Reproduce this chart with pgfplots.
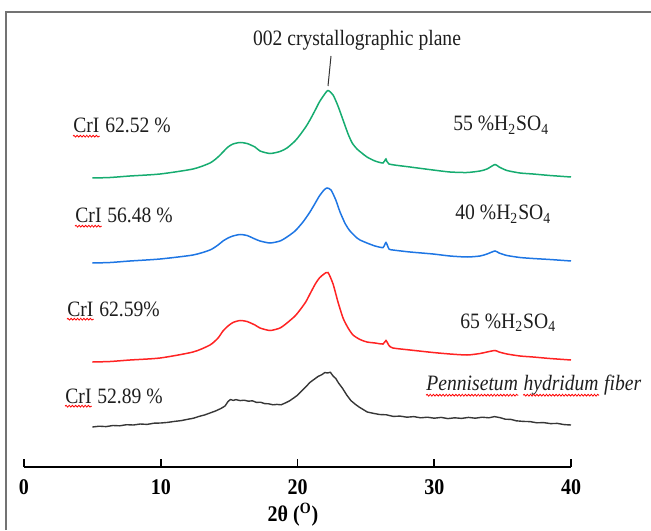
\documentclass[border=0pt]{standalone}
\usepackage{fontspec}
\setmainfont{Liberation Serif}
\usepackage{graphicx}
\usepackage{pgfplots}
\pgfplotsset{compat=1.18}
\usetikzlibrary{decorations.pathmorphing}
\definecolor{cgreen}{RGB}{22,172,112}
\definecolor{cblue}{RGB}{30,118,228}
\definecolor{cred}{RGB}{255,35,35}
\definecolor{cblack}{RGB}{55,55,55}
\definecolor{frame}{RGB}{115,115,115}
\definecolor{txt}{RGB}{30,30,30}
\newcommand\lab{\fontsize{9.8}{11}\selectfont}
\newcommand\tall[1]{\scalebox{1}[1.12]{#1}}
\tikzset{squig/.style={red, line width=0.4pt, decorate, decoration={snake, amplitude=0.45pt, segment length=1.6pt}}}

\pgfplotstableread{
x y
5.00 352
6.29 352.5
7.75 354
9.95 356
12.36 361
13.60 367
14.19 373
14.55 378
14.92 383
15.28 386
15.80 387.5
16.31 386.5
16.89 383
17.26 379
17.99 376.5
18.72 378.5
19.23 382
19.82 389
20.18 395
20.60 403
20.91 410
21.30 420
21.60 428
21.94 435
22.23 439.5
22.60 435
22.96 424
23.33 410
23.70 396
24.00 387
24.35 381
24.70 377
25.08 373
25.67 369
26.25 367
26.47 371
26.69 366
28.23 363
29.91 360
31.15 358
32.40 357.5
33.35 359
33.86 361
34.44 365.5
34.74 363
35.32 359.5
36.27 357
37.22 356
38.46 354.5
40.00 353
}\green

\pgfplotstableread{
x y
5.00 267
6.29 267.5
7.75 269
9.95 271
12.36 275
13.60 280
14.19 285
14.55 289
14.92 292
15.28 294
15.80 295.5
16.31 294.5
16.89 291
17.26 289
17.99 287
18.72 289
19.23 293
19.82 299
20.40 308
20.91 318
21.30 327
21.60 334
21.94 340
22.16 342
22.45 340
22.80 330
23.11 318
23.50 306
23.84 299
24.35 292
24.57 290
25.08 287
25.67 284
26.25 282.5
26.47 287.5
26.69 281
26.98 280
28.23 278
29.91 276
31.15 274
32.40 273
33.35 274
33.86 276
34.44 279
34.74 277
35.32 274.5
36.27 272.5
37.22 271.5
38.46 270.5
40.00 269
}\blue

\pgfplotstableread{
x y
5.00 168
6.29 168.5
7.75 170
9.95 172
12.36 178
13.60 185
14.19 192
14.55 199
14.92 204
15.28 207.5
15.80 209.5
16.31 208.5
16.89 205
17.26 202
17.99 199.5
18.72 202
19.23 207
19.82 214
20.18 220
20.60 228
20.91 236
21.30 246
21.60 252
21.94 256
22.23 257.5
22.60 246
22.96 228
23.33 212
23.70 202
24.06 195
24.57 190.5
25.08 188
25.67 187
26.25 186
26.47 189.5
26.69 184.5
26.98 182
28.23 180
29.91 177.5
31.15 176
32.40 175
33.35 176.5
33.86 178
34.44 179.5
34.74 178
35.32 176
36.27 174
37.22 173
38.46 171.5
40.00 170
}\red

\pgfplotstableread{
x y
5.0 103
5.5 103.8
6.0 103.4
6.5 104.5
7.0 104.2
7.5 105.3
8.0 105.0
8.5 106.0
9.0 105.6
9.5 106.8
10.0 107.0
10.5 107.6
11.0 108.6
11.5 109.4
12.0 110.8
12.4 111.8
12.8 113.6
13.2 115
13.6 117
14.0 119
14.4 121.5
14.7 124
14.92 128.5
15.1 130.5
15.3 129.6
15.5 130.4
15.8 129.4
16.1 129.8
16.4 128.8
16.7 129.2
17.0 127.6
17.3 127.8
17.6 126.4
17.9 126.2
18.2 125.2
18.5 125.6
18.8 125.2
19.1 127
19.4 129
19.7 131.8
20.0 134.8
20.3 139
20.6 143
20.9 147.5
21.2 150.5
21.5 153.5
21.8 155.5
22.0 157.5
22.2 157
22.4 157.8
22.6 154
22.8 151.5
23.0 147
23.3 141.5
23.6 135
23.9 129.5
24.2 126
24.5 123
24.8 120.5
25.1 118
25.5 116.8
26.0 115.5
26.5 115.2
27.0 113.6
27.5 113.9
28.0 112.8
28.5 113.4
29.0 112.2
29.5 112.8
30.0 111.8
30.5 112.6
31.0 111.4
31.5 112.2
32.0 111.6
32.5 112.6
33.0 111.8
33.5 112.8
34.0 112.2
34.4 113.4
34.8 112.4
35.2 110.8
35.6 110.6
36.0 109.2
36.5 108.6
37.0 108.4
37.5 107.2
38.0 107.4
38.5 106.4
39.0 106.6
39.5 105.4
40.0 105
}\black

\begin{document}
\begin{tikzpicture}
\useasboundingbox (0,0) rectangle (325.5pt,265pt);
\begin{axis}[
  at={(12pt,31.5pt)}, anchor=south west,
  scale only axis, width=273.5pt, height=227.5pt,
  xmin=0, xmax=40, ymin=63, ymax=518,
  axis x line=bottom, axis y line=none,
  axis line style={-, line width=0.8pt, black},
  xtick={0,10,20,30,40},
  tick align=inside, major tick length=4pt,
  tick style={line width=0.8pt, black},
  xticklabel style={font=\fontsize{10}{12}\selectfont\bfseries, yshift=-3pt},
  xticklabel={\tall{\pgfmathprintnumber{\tick}}},
  /pgf/number format/assume math mode=true,
  clip=false,
]
\addplot[cgreen, line width=0.75pt, smooth, tension=0.4] table {\green};
\addplot[cblue, line width=0.75pt, smooth, tension=0.4] table {\blue};
\addplot[cred, line width=0.75pt, smooth, tension=0.4] table {\red};
\addplot[cblack, line width=0.7pt, line join=round] table {\black};

% frame
\draw[frame, line width=1pt] (axis cs:-1.32,0) -- (axis cs:-1.32,518) -- (axis cs:45.9,518);

% leader line and annotation
\draw[black!80, line width=0.5pt] (axis cs:22.45,474) -- (axis cs:22.23,444);
\node[anchor=base, inner sep=0pt, font=\lab, text=txt] at (axis cs:24.35,484) {\tall{002 crystallographic plane}};

% CrI labels
\node[anchor=base west, inner sep=0pt, font=\lab, text=txt] (a1) at (axis cs:3.58,397) {\tall{CrI}};
\node[anchor=base west, inner sep=0pt, font=\lab, text=txt] at ([xshift=2.5pt]a1.base east) {\tall{62.52 \%}};
\draw[squig] ([yshift=-1.6pt]a1.base west) -- ([yshift=-1.6pt]a1.base east);

\node[anchor=base west, inner sep=0pt, font=\lab, text=txt] (a2) at (axis cs:3.73,307) {\tall{CrI}};
\node[anchor=base west, inner sep=0pt, font=\lab, text=txt] at ([xshift=2.5pt]a2.base east) {\tall{56.48 \%}};
\draw[squig] ([yshift=-1.6pt]a2.base west) -- ([yshift=-1.6pt]a2.base east);

\node[anchor=base west, inner sep=0pt, font=\lab, text=txt] (a3) at (axis cs:3.14,214) {\tall{CrI}};
\node[anchor=base west, inner sep=0pt, font=\lab, text=txt] at ([xshift=2.5pt]a3.base east) {\tall{62.59\%}};
\draw[squig] ([yshift=-1.6pt]a3.base west) -- ([yshift=-1.6pt]a3.base east);

\node[anchor=base west, inner sep=0pt, font=\lab, text=txt] (a4) at (axis cs:3.00,127) {\tall{CrI}};
\node[anchor=base west, inner sep=0pt, font=\lab, text=txt] at ([xshift=2.5pt]a4.base east) {\tall{52.89 \%}};
\draw[squig] ([yshift=-1.6pt]a4.base west) -- ([yshift=-1.6pt]a4.base east);

% acid labels
\node[anchor=base west, inner sep=0pt, font=\lab, text=txt] at (axis cs:31.37,399) {\tall{55 \%H\textsubscript{2}SO\textsubscript{4}}};
\node[anchor=base west, inner sep=0pt, font=\lab, text=txt] at (axis cs:31.52,310) {\tall{40 \%H\textsubscript{2}SO\textsubscript{4}}};
\node[anchor=base west, inner sep=0pt, font=\lab, text=txt] at (axis cs:31.88,202) {\tall{65 \%H\textsubscript{2}SO\textsubscript{4}}};

\node[anchor=base west, inner sep=0pt, font=\lab\itshape, text=txt] (p1) at (axis cs:29.40,140) {\tall{Pennisetum}};
\node[anchor=base west, inner sep=0pt, font=\lab\itshape, text=txt] (p2) at ([xshift=2.4pt]p1.base east) {\tall{hydridum}};
\node[anchor=base west, inner sep=0pt, font=\lab\itshape, text=txt] at ([xshift=2.4pt]p2.base east) {\tall{fiber}};
\draw[squig] ([yshift=-2.6pt]p1.base west) -- ([yshift=-2.6pt]p1.base east);
\draw[squig] ([yshift=-2.6pt]p2.base west) -- ([yshift=-2.6pt]p2.base east);

% axis title
\node[inner sep=0pt, font=\fontsize{10}{12}\selectfont\bfseries] at (axis cs:19.67,15) {\tall{2θ (\textsuperscript{O})}};
\end{axis}
\end{tikzpicture}
\end{document}
